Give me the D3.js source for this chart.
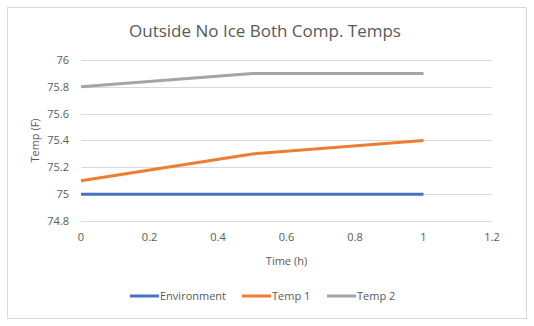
<!DOCTYPE html>
<html>
<head>
<meta charset="utf-8">
<script src="https://cdn.jsdelivr.net/npm/d3@7"></script>
<style>
body { margin: 0; background: #fff; }
text { font-family: "Open Sans", "Noto Sans", sans-serif; fill: #595959; }
</style>
</head>
<body>
<svg id="chart" width="534" height="326"></svg>
<script>
// data
var times = [0, 0.5, 1];
var environment = [75, 75, 75];
var temp1 = [75.1, 75.3, 75.4];
var temp2 = [75.8, 75.9, 75.9];
var seriesNames = ["Environment", "Temp 1", "Temp 2"];
var colori = ["#4472C4", "#ED7D31", "#A5A5A5"];
var xTicks = [0, 0.2, 0.4, 0.6, 0.8, 1, 1.2];
var yTicks = [74.8, 75, 75.2, 75.4, 75.6, 75.8, 76];

var svg = d3.select("#chart");

// outer border
svg.append("rect")
    .attr("x", 7.5).attr("y", 7.5)
    .attr("width", 519).attr("height", 311)
    .attr("fill", "#fff")
    .attr("stroke", "#d9d9d9");

var margin = {left: 81, right: 42, top: 60, bottom: 105};
var width = 534 - margin.left - margin.right,
    height = 326 - margin.top - margin.bottom;

var x = d3.scaleLinear().domain([0, 1.2]).range([margin.left, margin.left + width]);
var y = d3.scaleLinear().domain([74.8, 76]).range([margin.top + height, margin.top]);

// gridlines
svg.append("g").selectAll("line")
    .data(yTicks)
    .enter().append("line")
    .attr("x1", x(0)).attr("x2", x(1.2))
    .attr("y1", function(d){ return Math.round(y(d)) + 0.5; })
    .attr("y2", function(d){ return Math.round(y(d)) + 0.5; })
    .attr("stroke", "#d9d9d9");

// y tick labels
svg.append("g").selectAll("text")
    .data(yTicks)
    .enter().append("text")
    .attr("x", x(0) - 12)
    .attr("y", function(d){ return y(d); })
    .attr("dy", "0.35em")
    .attr("text-anchor", "end")
    .attr("font-size", "11px")
    .text(function(d){ return d3.format("")(+d.toFixed(1)); });

// x tick labels
svg.append("g").selectAll("text")
    .data(xTicks)
    .enter().append("text")
    .attr("x", function(d){ return x(d); })
    .attr("y", y(74.8) + 20)
    .attr("text-anchor", "middle")
    .attr("font-size", "11px")
    .text(function(d){ return +d.toFixed(1); });

// title
svg.append("text")
    .attr("x", 265).attr("y", 37)
    .attr("text-anchor", "middle")
    .attr("font-size", "17px")
    .text("Outside No Ice Both Comp. Temps");

// axis titles
svg.append("text")
    .attr("x", x(0.6)).attr("y", 265)
    .attr("text-anchor", "middle")
    .attr("font-size", "11px")
    .text("Time (h)");

svg.append("text")
    .attr("transform", "translate(39," + y(75.4) + ") rotate(-90)")
    .attr("text-anchor", "middle")
    .attr("font-size", "11px")
    .text("Temp (F)");

// lines
var allSeries = [environment, temp1, temp2];
var line = d3.line()
    .x(function(d, i){ return x(times[i]); })
    .y(function(d){ return y(d); });

svg.append("g").selectAll("path")
    .data(allSeries)
    .enter().append("path")
    .attr("d", line)
    .attr("fill", "none")
    .attr("stroke", function(d, i){ return colori[i]; })
    .attr("stroke-width", 3)
    .attr("stroke-linejoin", "round");

// legend
var legendX = [130, 242, 327];
var legenda = svg.append("g").selectAll("g")
    .data(seriesNames)
    .enter().append("g")
    .attr("transform", function(d, i){ return "translate(" + legendX[i] + ",296)"; });

legenda.append("line")
    .attr("x1", 0).attr("x2", 29)
    .attr("y1", 0).attr("y2", 0)
    .attr("stroke", function(d, i){ return colori[i]; })
    .attr("stroke-width", 3);

legenda.append("text")
    .attr("x", 30).attr("y", 0)
    .attr("dy", "0.35em")
    .attr("font-size", "11px")
    .text(function(d){ return d; });
</script>
</body>
</html>
